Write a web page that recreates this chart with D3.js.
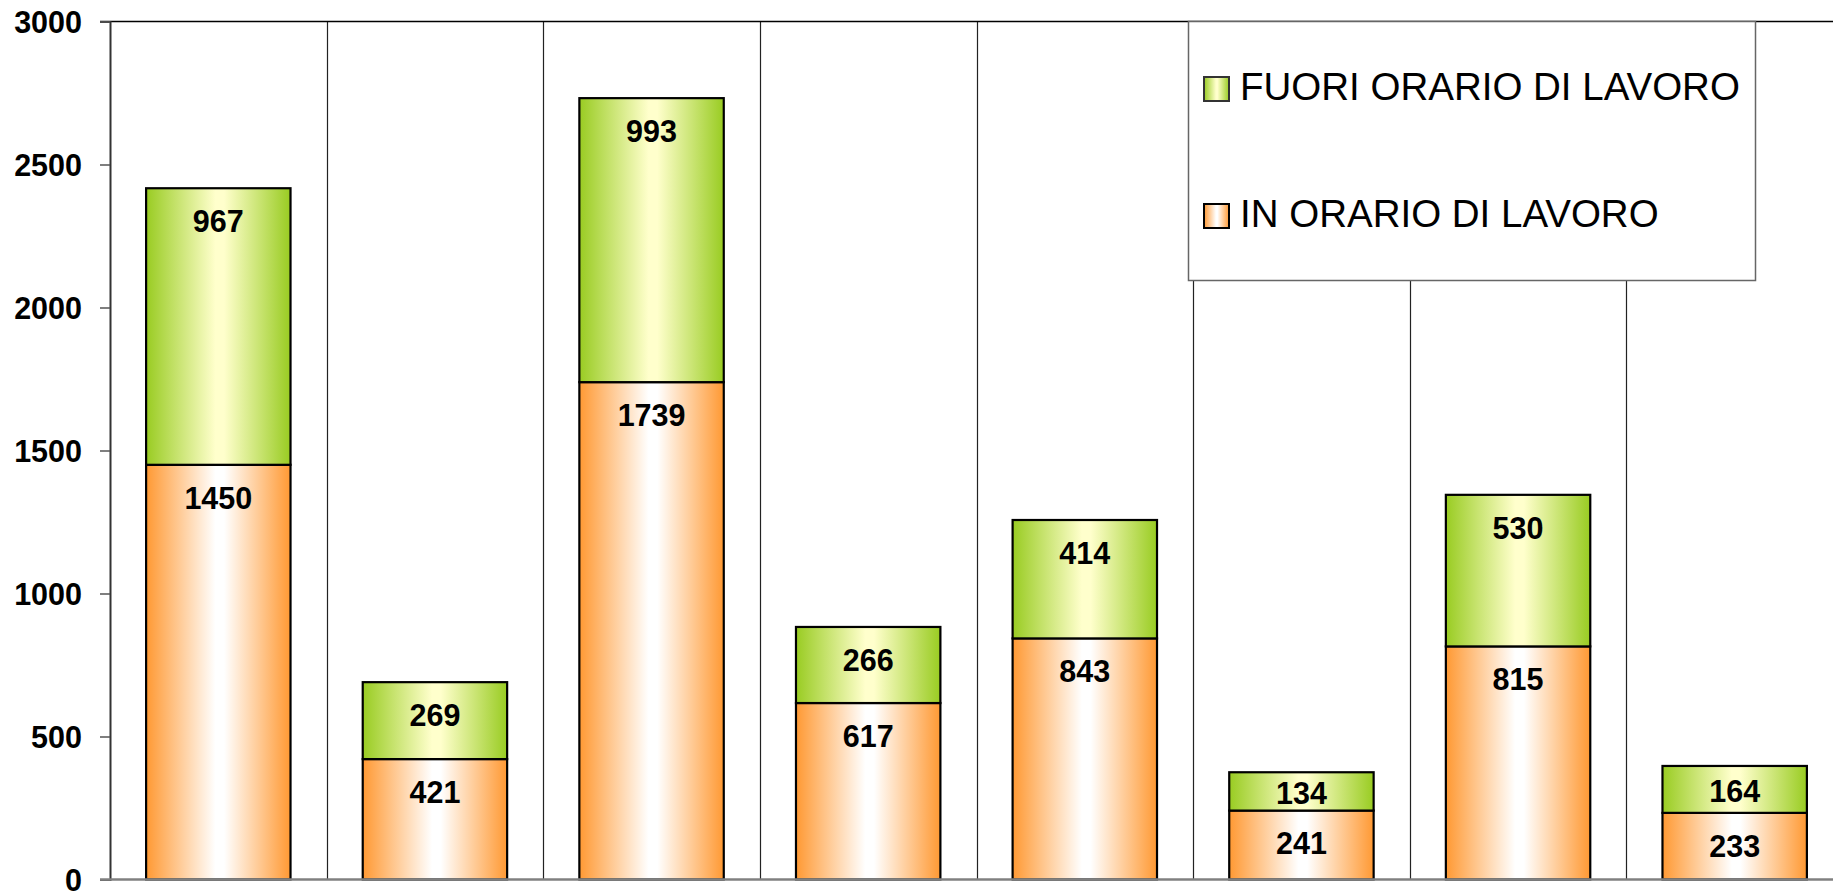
<!DOCTYPE html>
<html>
<head>
<meta charset="utf-8">
<script src="https://cdn.jsdelivr.net/npm/d3@7"></script>
<style>
  html, body { margin: 0; padding: 0; background: #fff; overflow: hidden; }
  svg { display: block; font-family: Arial, "Liberation Sans", sans-serif; }
</style>
</head>
<body>
<svg id="chart" width="1833" height="892"></svg>
<script>
// ---- data ----
const categories = ["1", "2", "3", "4", "5", "6", "7", "8"];
const inOrario = [1450, 421, 1739, 617, 843, 241, 815, 233];
const fuoriOrario = [967, 269, 993, 266, 414, 134, 530, 164];
const seriesNames = ["IN ORARIO DI LAVORO", "FUORI ORARIO DI LAVORO"];
const yTicks = [0, 500, 1000, 1500, 2000, 2500, 3000];

// ---- layout ----
const W = 1833, H = 892;
const plot = { left: 110, top: 21.5, bottom: 879.5, right: 1843 };

const svg = d3.select("#chart");
const defs = svg.append("defs");

function hGrad(id, edge, mid) {
  const g = defs.append("linearGradient").attr("id", id)
    .attr("x1", "0%").attr("x2", "100%").attr("y1", "0%").attr("y2", "0%");
  g.append("stop").attr("offset", "0%").attr("stop-color", edge);
  g.append("stop").attr("offset", "48%").attr("stop-color", mid);
  g.append("stop").attr("offset", "54%").attr("stop-color", mid);
  g.append("stop").attr("offset", "100%").attr("stop-color", edge);
}
hGrad("gIn", "#ff9933", "#ffffff");
hGrad("gOut", "#99cc22", "#ffffcc");

const x = d3.scaleBand().domain(categories).range([plot.left, plot.right]).paddingInner(0).paddingOuter(0);
const y = d3.scaleLinear().domain([0, 3000]).range([plot.bottom, plot.top]);
const barW = x.bandwidth() / 1.5;

// stacked data
const rows = categories.map((c, i) => ({ cat: c, "IN": inOrario[i], "FUORI": fuoriOrario[i] }));
const stack = d3.stack().keys(["IN", "FUORI"])(rows);

// vertical gridlines between categories
const gridXs = categories.slice(1).map(c => x(c));
svg.append("g").selectAll("line").data(gridXs).join("line")
  .attr("x1", d => Math.round(d) + 0.5).attr("x2", d => Math.round(d) + 0.5)
  .attr("y1", y(3000)).attr("y2", y(0))
  .attr("stroke", "#222").attr("stroke-width", 1.2);

// top border line
svg.append("line")
  .attr("x1", plot.left - 10).attr("x2", W)
  .attr("y1", y(3000)).attr("y2", y(3000))
  .attr("stroke", "#000").attr("stroke-width", 1.5);

// y axis
const yAxis = d3.axisLeft(y).tickValues(yTicks).tickSize(10).tickPadding(18).tickFormat(d3.format("d"));
const ya = svg.append("g").attr("transform", `translate(${plot.left},0)`).call(yAxis);
ya.select(".domain").attr("stroke", "#333").attr("stroke-width", 2);
ya.selectAll(".tick line").attr("stroke", "#555").attr("stroke-width", 1.5);
ya.selectAll(".tick text")
  .attr("font-family", "Arial, 'Liberation Sans', sans-serif")
  .attr("font-size", 30.5).attr("font-weight", "bold").attr("fill", "#000")
  .attr("dy", "0.36em");

// bars
const fills = { IN: "url(#gIn)", FUORI: "url(#gOut)" };
const layers = svg.append("g").selectAll("g").data(stack).join("g");
layers.selectAll("rect").data(d => d.map(v => ({ key: d.key, v }))).join("rect")
  .attr("x", d => x(d.v.data.cat) + (x.bandwidth() - barW) / 2)
  .attr("width", barW)
  .attr("y", d => y(d.v[1]))
  .attr("height", d => y(d.v[0]) - y(d.v[1]))
  .attr("fill", d => fills[d.key])
  .attr("stroke", "#000").attr("stroke-width", 2.2);

// bottom axis line
svg.append("line")
  .attr("x1", plot.left - 10).attr("x2", W)
  .attr("y1", y(0)).attr("y2", y(0))
  .attr("stroke", "#808080").attr("stroke-width", 2.5);

// value labels
const labels = [];
stack.forEach(layer => layer.forEach(v => labels.push({ key: layer.key, v })));
svg.append("g").selectAll("text").data(labels).join("text")
  .attr("x", d => x(d.v.data.cat) + x.bandwidth() / 2)
  .attr("y", d => {
    const top = y(d.v[1]), bot = y(d.v[0]);
    const c = Math.min(top + 33, (top + bot) / 2 + 2);
    return c + 10.8;
  })
  .attr("text-anchor", "middle")
  .attr("font-size", 30.5).attr("font-weight", "bold").attr("fill", "#000")
  .text(d => d.v[1] - d.v[0]);

// legend
const lg = svg.append("g");
lg.append("rect")
  .attr("x", 1188.5).attr("y", y(3000)).attr("width", 567).attr("height", 259)
  .attr("fill", "#fff").attr("stroke", "#666").attr("stroke-width", 1.5);
const legendItems = [
  { name: seriesNames[1], fill: "url(#gOut)", stroke: "#333", sy: 77 },
  { name: seriesNames[0], fill: "url(#gIn)", stroke: "#000", sy: 204 }
];
const li = lg.selectAll("g").data(legendItems).join("g");
li.append("rect")
  .attr("x", 1204).attr("y", d => d.sy).attr("width", 25).attr("height", 24)
  .attr("fill", d => d.fill).attr("stroke", d => d.stroke).attr("stroke-width", 2);
li.append("text")
  .attr("x", 1240).attr("y", d => d.sy + 23)
  .attr("font-size", 38.5).attr("fill", "#000")
  .text(d => d.name);
</script>
</body>
</html>
